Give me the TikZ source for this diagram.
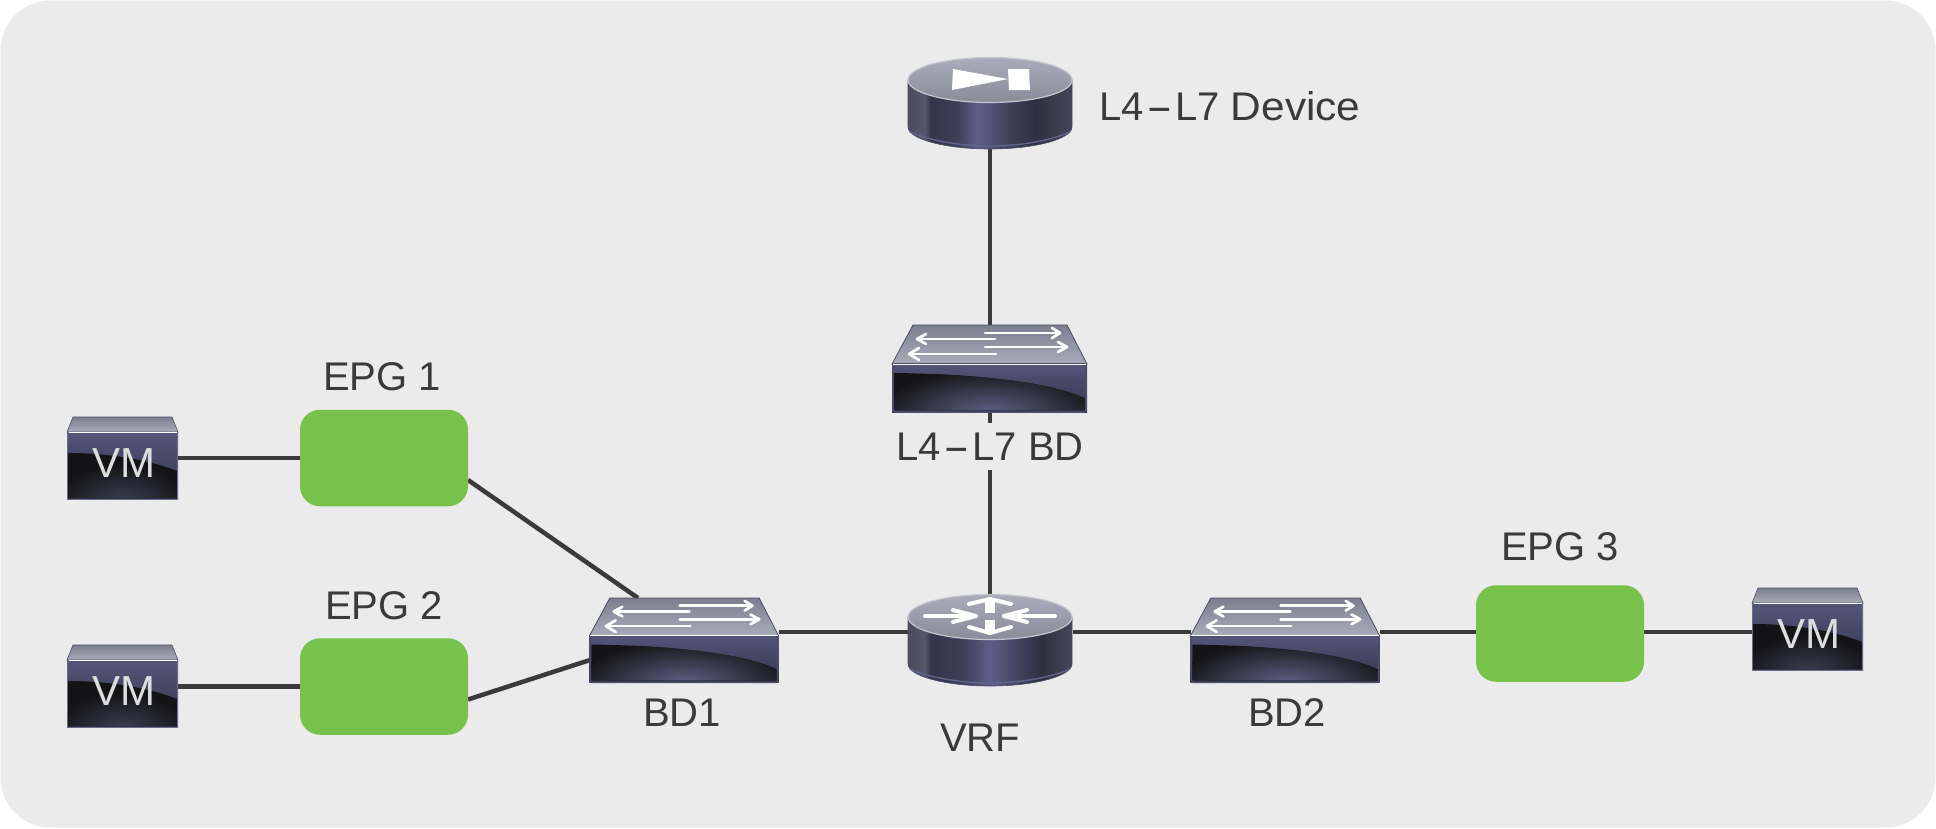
\documentclass[tikz,border=0pt]{standalone}
\usepackage{fontspec}
\usepackage{graphicx}
\setmainfont{Liberation Sans}
\usetikzlibrary{calc}
\pgfdeclarelayer{under}
\pgfsetlayers{under,main}
\definecolor{bgc}{HTML}{EBEBEB}
\definecolor{ink}{HTML}{3A3A3A}
\definecolor{grn}{HTML}{76C24A}
\definecolor{band}{HTML}{54557A}
\definecolor{bandb}{HTML}{34354A}
\definecolor{darkc}{HTML}{141416}
\definecolor{glow}{HTML}{62648A}
\definecolor{edge}{HTML}{4A4C68}
\definecolor{topa}{HTML}{7C7D8E}
\definecolor{topb}{HTML}{ABACBA}
\definecolor{vmtxt}{HTML}{DCDEDE}
\definecolor{lipc}{HTML}{62648A}
\definecolor{topbot}{HTML}{8A8B98}
\definecolor{rimc}{HTML}{C4C5CE}
\definecolor{vmglow}{HTML}{3C3E54}
\definecolor{vmedge}{HTML}{6A6C88}
\definecolor{ca}{HTML}{4A4B5C}
\definecolor{cb}{HTML}{55566A}
\definecolor{cc}{HTML}{33354A}
\definecolor{cd}{HTML}{3E3F58}
\definecolor{ce}{HTML}{5E5F88}
\definecolor{cf}{HTML}{2E3040}
\definecolor{cg}{HTML}{3A3C4C}
\definecolor{ch}{HTML}{45465A}
\pgfdeclarehorizontalshading{cylA}{100bp}{color(0bp)=(ca);color(25bp)=(ca);color(30bp)=(cb);color(32bp)=(cc);color(42bp)=(cd);color(50bp)=(ce);color(60bp)=(cd);color(66bp)=(cf);color(70bp)=(cg);color(75bp)=(ch);color(100bp)=(ch)}
\pgfdeclarehorizontalshading{cylB}{100bp}{color(0bp)=(ca);color(25bp)=(ca);color(30bp)=(cb);color(32bp)=(cc);color(40bp)=(cd);color(46bp)=(ce);color(56bp)=(cd);color(64bp)=(cf);color(70bp)=(cg);color(75bp)=(ch);color(100bp)=(ch)}
\newcommand{\longhy}{\kern2.5pt\scalebox{2}[1]{-}\kern2.5pt}
\tikzset{
  wire/.style={draw=ink,line width=4.5pt},
  lbl/.style={text=ink,font=\fontsize{40}{40}\selectfont,inner sep=0pt},
  hole/.style={minimum width=0pt,minimum height=0pt,inner sep=0pt,outer sep=0pt},
  epgbox/.style={fill=grn,rounded corners=20pt,minimum width=168pt,minimum height=96.5pt,inner sep=0pt,outer sep=0pt},
  barb/.style={draw=white,line width=2.7pt,line cap=round,line join=round},
  vmt/.style={text=vmtxt,font=\fontsize{42}{42}\selectfont,inner sep=0pt}
}
% switch icon: centre x, top y, scale
\newcommand{\swicon}[3]{%
\begin{scope}[shift={(#1,#2)},xscale=#3,yscale=#3]
  \shade[top color=topa,bottom color=topb,draw=edge,line width=0.8pt] (-77,0)--(77,0)--(97,39)--(-98,39)--cycle;
  \shade[top color=band,bottom color=bandb] (-98,39) rectangle (97,87);
  \begin{scope}
    \clip (-96,48) .. controls (-20,49) and (60,56) .. (96,74) -- (96,85) -- (-96,85) -- cycle;
    \fill[darkc] (-96,46) rectangle (96,86);
    \shade[inner color=glow,outer color=darkc] (0,90) ellipse (112 and 46);
  \end{scope}
  \draw[edge,line width=1.6pt,rounded corners=1.5pt] (-97,39) rectangle (96,87);
  \draw[white,line width=1pt] (-97,39)--(96,39);
  \draw[barb] (-5,8)--(69,8); \draw[barb] (62,3)--(70,8)--(62,13);
  \draw[barb] (5,14)--(-72,14); \draw[barb] (-64,9)--(-73,14)--(-64,19);
  \draw[barb] (-5,22)--(76,22); \draw[barb] (68,17)--(77,22)--(68,27);
  \draw[barb] (6,29)--(-80,29); \draw[barb] (-71,23)--(-81,29)--(-71,35);
\end{scope}}
% cylinder icon: centre x, top y, shading name
\newcommand{\cylicon}[3]{%
\begin{scope}[shift={(#1,#2)}]
  \shade[shading=#3,draw=edge,line width=0.6pt] (-82,23) -- (-82,70) .. controls (-82,82) and (-45,92) .. (0,92) .. controls (45,92) and (82,82) .. (82,70) -- (82,23) -- cycle;
  \draw[lipc,line width=1.4pt] (-80,75) .. controls (-62,83) and (-32,89) .. (0,89) .. controls (32,89) and (62,83) .. (80,75);
  \shade[top color=topb,bottom color=topbot,draw=rimc,line width=1.2pt] (0,23) ellipse (82 and 22.5);
\end{scope}}
% VM icon: left x, top y
\newcommand{\vmicon}[2]{%
\begin{scope}[shift={(#1,#2)}]
  \shade[top color=topa,bottom color=topb,draw=edge,line width=0.6pt] (6,0)--(105,0)--(111,15)--(0,15)--cycle;
  \shade[top color=band,bottom color=bandb] (0,15) rectangle (111,82);
  \begin{scope}
    \clip (1,36) .. controls (40,36) and (80,42) .. (110,54) -- (110,81) -- (1,81) -- cycle;
    \fill[darkc] (0,30) rectangle (111,82);
    \shade[inner color=vmglow,outer color=darkc] (55,84) ellipse (66 and 36);
  \end{scope}
  \draw[vmedge,line width=1pt] (0.5,15) rectangle (110.5,82);
  \draw[white,line width=0.8pt] (2,15)--(110,15);
\end{scope}}
\begin{document}
\begin{tikzpicture}[x=1pt,y=-1pt]
\useasboundingbox (0,0) rectangle (1936,828);
% anchor boxes (invisible)
\node[hole,minimum width=165pt,minimum height=92pt] (dev) at (990,103) {};
\node[hole,minimum width=195pt,minimum height=88pt] (sw) at (990,369) {};
\node[hole,minimum width=165pt,minimum height=92pt] (vrf) at (990,640) {};
\node[hole,minimum width=189pt,minimum height=86pt] (bd1) at (684.5,641) {};
\node[hole,minimum width=189pt,minimum height=86pt] (bd2) at (1285.5,641) {};
\node[hole,minimum width=111pt,minimum height=82pt] (vm1) at (122.5,458) {};
\node[hole,minimum width=111pt,minimum height=82pt] (vm2) at (122.5,686) {};
\node[hole,minimum width=111pt,minimum height=82pt] (vm3) at (1807.5,629) {};
\node[epgbox] (epg1) at (384,458) {};
\node[epgbox] (epg2) at (384,686.5) {};
\node[epgbox] (epg3) at (1560,633.5) {};
\coordinate (bd1a) at (638,598);
\coordinate (bd1b) at (590,660);
\coordinate (row) at (0,632);
\begin{pgfonlayer}{under}
\fill[white] (0,0) rectangle (1936,828);
\fill[bgc,rounded corners=50pt] (0.5,0.5) rectangle (1935.5,827.5);
% connectors
\draw[wire] (vm1.east |- epg1) -- (epg1.west);
\draw[wire] (vm2.east |- epg2) -- (epg2.west);
\draw[wire] ([yshift=-22pt]epg1.east) -- (bd1a);
\draw[wire] ([yshift=-13pt]epg2.east) -- (bd1b);
\draw[wire] (bd1.east |- row) -- (vrf.west |- row);
\draw[wire] (vrf.east |- row) -- (bd2.west |- row);
\draw[wire] (bd2.east |- row) -- (epg3.west |- row);
\draw[wire] (epg3.east |- row) -- (vm3.west |- row);
\draw[wire] (dev) -- (sw);
\draw[wire] (sw) -- (vrf);
\end{pgfonlayer}
% icons
\swicon{990}{325}{1}
\swicon{684.5}{598}{0.97}
\swicon{1285.5}{598}{0.97}
\cylicon{990}{57}{cylB}
\cylicon{990}{594}{cylA}
\vmicon{67}{417}
\vmicon{67}{645}
\vmicon{1752}{588}
% device symbol
\fill[white] (953,69)--(1008,79)--(952,90)--cycle;
\fill[white] (1008,69)--(1029,69)--(1030,90)--(1009,90)--cycle;
% router symbol
\begin{scope}[shift={(990,616)}]
  \draw[white,line width=4pt,line cap=round] (-65,0)--(-14,0);
  \draw[white,line width=4pt,line cap=round,line join=round] (-37,-6)--(-14,0)--(-37,6);
  \draw[white,line width=4pt,line cap=round] (65,0)--(14,0);
  \draw[white,line width=4pt,line cap=round,line join=round] (37,-6)--(14,0)--(37,6);
  \fill[white] (-5,-17) rectangle (5,-3);
  \draw[white,line width=4pt,line cap=round,line join=round] (-21,-12)--(0,-17)--(21,-12);
  \fill[white] (-5,4) rectangle (5,17);
  \draw[white,line width=4pt,line cap=round,line join=round] (-21,11)--(0,17)--(21,11);
\end{scope}
% labels
\node[lbl,anchor=west] (tdev) at (1099,106) {L4\longhy L7 \scalebox{1.06}[1]{Device}};
\node[lbl,fill=bgc,minimum height=47pt] (tsw) at (990,446.5) {L4\longhy L7 BD};
\node[lbl] (tbd1) at (682,713) {BD1};
\node[lbl] (tvrf) at (980,738) {VRF};
\node[lbl] (tbd2) at (1287,713) {BD2};
\node[lbl] (te1) at (382,377) {EPG 1};
\node[lbl] (te2) at (384,606) {EPG 2};
\node[lbl] (te3) at (1560,547) {EPG 3};
\node[vmt] (tv1) at (124,463) {VM};
\node[vmt] (tv2) at (124,691) {VM};
\node[vmt] (tv3) at (1809,634) {VM};
\end{tikzpicture}
\end{document}
